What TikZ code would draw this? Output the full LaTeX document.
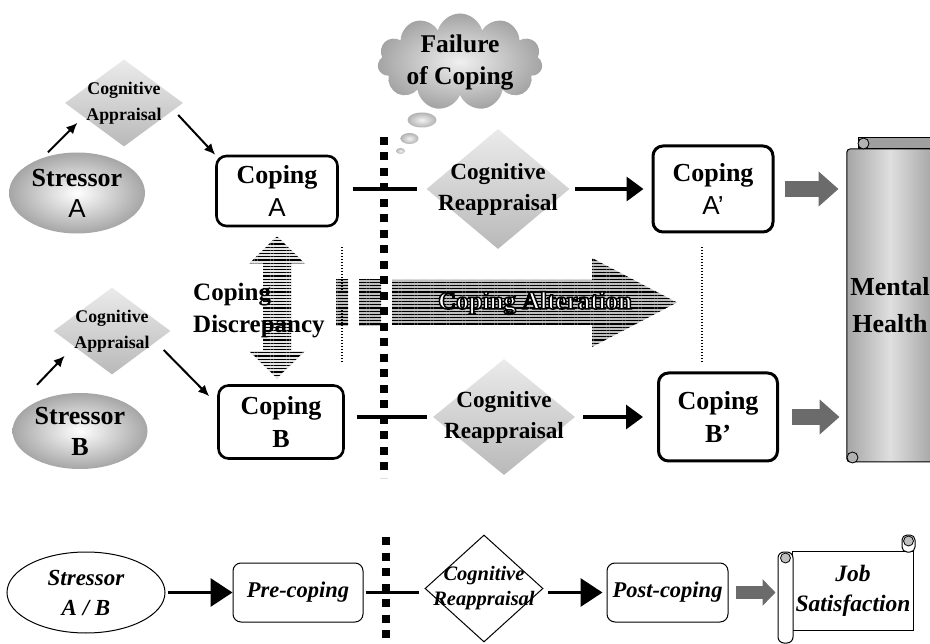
\documentclass[tikz,border=0pt]{standalone}
\usepackage{fontspec}
\setmainfont{Liberation Serif}
\newfontfamily\arialfont{Liberation Sans}
\usetikzlibrary{arrows.meta,shapes.geometric,shapes.symbols,patterns.meta}
\newcommand\hollowtext[1]{{\color{white}\special{pdf:literal direct 2 Tr 1.5 w 0 G}#1\special{pdf:literal direct 0 Tr}}}

\begin{document}
\begin{tikzpicture}[
  x=1pt, y=-1pt,
  stressor/.style={ellipse, inner sep=0, inner color=white, outer color=gray!70, align=center, font=\bfseries\fontsize{26}{31}\selectfont},
  appraisal/.style={diamond, inner sep=0, top color=gray!16, bottom color=gray!55},
  apptext/.style={font=\bfseries\fontsize{17.8}{26}\selectfont, align=center, inner sep=0},
  reapptext/.style={font=\bfseries\fontsize{23.2}{31}\selectfont, align=center, inner sep=0},
  copebox/.style={draw, line width=2.6pt, rounded corners=10pt, fill=white, align=center, font=\bfseries\fontsize{26}{33}\selectfont},
  outlinebox/.style={draw, line width=1pt, fill=white, align=center, font=\bfseries\itshape\fontsize{22.5}{29}\selectfont},
  pointer/.style={-{Latex[length=11pt,width=10pt]}, line width=2pt},
  flow/.style={-{Triangle[length=17pt,width=24pt]}, line width=3.5pt},
  flowbig/.style={-{Triangle[length=22pt,width=28pt]}, line width=3.5pt},
  link/.style={line width=3.5pt},
  grayarrow/.style={-{Triangle[length=20pt,width=34pt]}, line width=16pt, draw=black!58},
  graysmall/.style={-{Triangle[length=13pt,width=26pt]}, line width=13pt, draw=black!58},
  divider/.style={line width=8pt, dash pattern=on 8pt off 7.5pt},
  guide/.style={line width=1.3pt, dash pattern=on 1.4pt off 1.6pt},
  stripes/.style={preaction={fill=gray!50}, pattern={Lines[angle=0,distance=3.2pt,line width=1.2pt]}, pattern color=black}
]
\useasboundingbox (0,0) rectangle (930,644);

\node[cloud, cloud puffs=11, aspect=1.6, minimum width=165, minimum height=97, inner sep=0, inner color=gray!12, outer color=gray!72,
  label={[font=\bfseries\fontsize{25.5}{32}\selectfont, align=center, inner sep=0]center:Failure\\of Coping}] (fail) at (460,62) {};
\shade[inner color=gray!10, outer color=gray!60] (422,120) ellipse [x radius=14.5pt, y radius=7.5pt];
\shade[inner color=gray!10, outer color=gray!60] (409.5,138.5) ellipse [x radius=9pt, y radius=5.5pt];
\shade[inner color=gray!10, outer color=gray!60] (400.5,151) ellipse [x radius=4.5pt, y radius=3pt];

\node[stressor, minimum width=136, minimum height=81] (sA) at (77,193) {Stressor\\{\arialfont\mdseries A}};
\node[appraisal, minimum width=118, minimum height=87, label={[apptext]center:Cognitive\\Appraisal}] (caA) at (124,103) {};
\node[copebox, minimum width=121, minimum height=70] (cA) at (277,191) {Coping\\{\arialfont\mdseries A}};
\node[appraisal, minimum width=143, minimum height=120, label={[reapptext]center:Cognitive\\Reappraisal}] (reA) at (498,189) {};
\node[copebox, line width=3pt, minimum width=120, minimum height=86] (cA2) at (713,189) {Coping\\{\arialfont\mdseries A’}};

\node[stressor, minimum width=135, minimum height=76] (sB) at (80,431) {Stressor\\B};
\node[appraisal, minimum width=117, minimum height=87, label={[apptext]center:Cognitive\\Appraisal}] (caB) at (112,331) {};
\node[copebox, minimum width=125, minimum height=73] (cB) at (281,422) {Coping\\B};
\node[appraisal, minimum width=142, minimum height=116, label={[reapptext]center:Cognitive\\Reappraisal}] (reB) at (504,417) {};
\node[copebox, line width=3pt, minimum width=119, minimum height=88] (cB2) at (718,417) {Coping\\B’};

\node[draw, line width=1pt, rounded corners=3pt, left color=gray!70, right color=gray!70, middle color=gray!25, minimum width=66, minimum height=313,
  align=center, font=\bfseries\fontsize{26}{37}\selectfont] (MH) at (890,305.5) {Mental\\Health};
\draw[line width=1pt, fill=gray!75] (858,138) rectangle (935,149);
\draw[line width=0.8pt, fill=gray!60] (863.5,143.5) circle (5.5pt);
\draw[line width=0.8pt, fill=gray!60] (852.5,457.5) circle (5.5pt);

\draw[pointer] ([xshift=-29pt]sA.north) -- ([shift={(-17,-2)}]caA.south west);
\draw[pointer] ([shift={(-5,12)}]caA.east) -- (cA.north west);
\draw[link] (reA.west -| cA.east) ++(14,0) -- ([xshift=-9pt]reA.west);
\draw[flow] ([xshift=5.5pt]reA.east) -- ([xshift=-8pt]cA2.west);
\draw[grayarrow] ([xshift=10pt]cA2.east) -- ++(54,0);

\draw[pointer] ([shift={(-43,-8)}]sB.north) -- ([shift={(-18,3)}]caB.south west);
\draw[pointer] ([shift={(-7,19)}]caB.east) -- ([shift={(-8,12)}]cB.north west);
\draw[link] (reB.west -| cB.east) ++(12,0) -- ([xshift=-6pt]reB.west);
\draw[flow] ([xshift=8pt]reB.east) -- ([xshift=-14pt]cB2.west);
\draw[grayarrow] ([xshift=12.5pt]cB2.east) -- ++(48,0);

\path (cA.south) ++(0,9) coordinate (dTop);
\fill[stripes, preaction={fill=gray!20}] (dTop) -- ++(27.5,27) -- ++(-13.5,0) -- ++(0,88) -- ++(13.5,0) -- ++(-27.5,27)
  -- ++(-27.5,-27) -- ++(13.5,0) -- ++(0,-88) -- ++(-13.5,0) -- cycle;
\node[anchor=west, inner sep=0, align=left, font=\bfseries\fontsize{25}{32}\selectfont] (disc) at (193,311) {Coping\\Discrepancy};

\fill[stripes] (336,279) rectangle (348,326);
\fill[stripes] (359,279) rectangle (381,326);
\fill[stripes] (392,280) -- (592,280) -- (592,258) -- (677,302.5) -- (592,347) -- (592,325) -- (392,325) -- cycle;
\node[font=\bfseries\fontsize{25}{30}\selectfont] (alt) at (535,303) {\hollowtext{Coping Alteration}};

\draw[guide] (342,247) -- (342,363);
\draw[guide] (702,247) -- (702,363);
\draw[divider] (384,137) -- (384,478);

\node[outlinebox, ellipse, inner sep=0, minimum width=158, minimum height=81, font=\bfseries\itshape\fontsize{23}{30}\selectfont] (sAB) at (86,592.5) {Stressor\\A / B};
\node[outlinebox, rounded corners=8pt, minimum width=130, minimum height=59] (pre) at (298,592.5) {Pre-coping};
\node[outlinebox, diamond, inner sep=0, minimum width=118, minimum height=107,
  label={[font=\bfseries\itshape\fontsize{20.5}{25}\selectfont, align=center, inner sep=0]center:Cognitive\\Reappraisal}] (reAB) at (484,588.5) {};
\node[outlinebox, rounded corners=8pt, minimum width=121, minimum height=59] (post) at (667.5,592.5) {Post-coping};
\node[outlinebox, minimum width=120, minimum height=79, font=\bfseries\itshape\fontsize{23.5}{30}\selectfont] (js) at (853,590.5) {Job\\Satisfaction};
\draw[line width=1pt, fill=white, rounded corners=6pt] (778,552) rectangle (793,643);
\draw[line width=0.8pt, fill=gray!50] (785.5,558) circle (5pt);
\draw[line width=1pt, fill=white, rounded corners=5pt] (902,535) rectangle (915,552);
\draw[line width=0.8pt, fill=gray!50] (908.5,541) circle (5pt);

\draw[flowbig] ([xshift=2pt]sAB.east) -- (pre.west);
\draw[link] (pre.east) ++(2,0) -- ++(53,0);
\draw[flowbig] (reAB.east |- post.west) ++(4,0) -- ([xshift=-4pt]post.west);
\draw[graysmall] ([xshift=7pt]post.east) -- ++(40,0);
\draw[divider] (386,537) -- (386,641);

\end{tikzpicture}
\end{document}
